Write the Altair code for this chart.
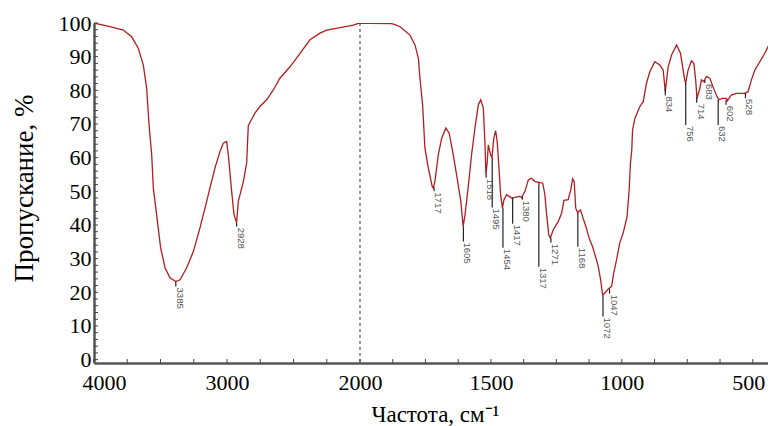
import altair as alt
import pandas as pd

# Spectrum (wavenumber, cm-1 ; transmittance, %)
wavenumber = [4000, 3880, 3780, 3717, 3667, 3629, 3604, 3586, 3566, 3554, 3529, 3499, 3466, 3429, 3385,
              3353, 3303, 3253, 3203, 3165, 3128, 3090, 3053, 3028, 3003, 2990, 2965, 2947, 2928, 2915,
              2877, 2852, 2840, 2827, 2789, 2752, 2702, 2652, 2602, 2526, 2451, 2376, 2301, 2250, 2150,
              2050, 2013, 1962, 1880, 1866, 1847, 1809, 1790, 1777, 1771, 1761, 1752, 1739, 1724, 1720,
              1714, 1701, 1688, 1672, 1659, 1644, 1629, 1615, 1606, 1599, 1587, 1574, 1561, 1548, 1539,
              1529, 1523, 1519, 1514, 1510, 1501, 1496, 1489, 1482, 1476, 1470, 1463, 1456, 1450, 1440,
              1430, 1421, 1408, 1392, 1383, 1370, 1357, 1345, 1332, 1320, 1302, 1294, 1287, 1279, 1273,
              1262, 1243, 1230, 1221, 1205, 1195, 1188, 1182, 1176, 1169, 1158, 1148, 1135, 1125, 1112,
              1099, 1090, 1081, 1073, 1065, 1052, 1039, 1031, 1020, 1008, 995, 980, 972, 967, 962,
              959, 950, 931, 918, 906, 893, 874, 855, 842, 834, 823, 810, 791, 776, 760,
              756, 747, 734, 725, 718, 713, 702, 696, 687, 677, 664, 652, 639, 630, 616,
              600, 597, 582, 563, 531, 518, 505, 492, 473, 454, 435, 428, 422, 416]
transmittance = [100, 98.9, 97.9, 95.9, 92.5, 87.5, 80.6, 69.7, 60.8, 51, 43, 33.2, 27.3, 24.3, 23.2,
                 23.7, 27.3, 32.1, 39.2, 45.1, 51, 57, 61.8, 64.3, 64.8, 60.8, 50, 43, 40.7, 47,
                 52.9, 58.5, 69.5, 70.5, 73.3, 75.2, 77.2, 80.1, 83.6, 87, 91, 95, 97, 97.9, 98.6,
                 99.4, 99.9, 99.9, 99.8, 99.5, 98.9, 96.4, 93.5, 89.5, 83.6, 75.7, 62.8, 56.9, 51.4, 51,
                 52.9, 60.8, 65.8, 68.8, 67.2, 60.8, 53.9, 47, 39.6, 43, 51, 60.8, 68.8, 75.7, 77.2,
                 74.7, 64.8, 54.9, 58.8, 63.8, 60.8, 60, 65.8, 68, 64.8, 57.9, 49, 45.1, 47.5, 49,
                 48.5, 48, 48.2, 48.5, 48.2, 50, 53.4, 53.9, 52.9, 52.7, 52.4, 49, 43, 37.1, 36.1,
                 38.6, 41, 43.5, 47.3, 47.5, 50.4, 53.7, 52.9, 45, 43.7, 44.5, 42, 39, 36.1, 33.6,
                 30.2, 27.7, 23.7, 19.1, 19.8, 21, 21.8, 25.7, 29.7, 34.6, 37.6, 42.5, 50.4, 58.4, 62.3,
                 68.2, 71.7, 75.2, 76.7, 82.1, 85.5, 88.5, 87.5, 86, 79.6, 87, 90.5, 93.5, 91, 83.1,
                 82.2, 86, 88.8, 88, 83.1, 77.6, 80.6, 83.1, 82.6, 84.1, 83.6, 81.1, 78.6, 77.2, 77.6,
                 77.6, 76.9, 78.6, 79.1, 79.1, 79.6, 83.1, 86, 88.5, 91, 94, 95.4, 94.5, 94]

# Peak annotations
peak_labels = [3385, 2928, 1717, 1605, 1518, 1495, 1454, 1417, 1380, 1317, 1271, 1168, 1072, 1047,
               834, 756, 714, 683, 632, 602, 528]
peak_top = [23.2, 40.7, 51.2, 39.6, 54.9, 60.0, 45.1, 48.1, 48.4, 52.5, 36.2, 43.6, 19.0, 21.1,
            80.5, 82.2, 78.0, 83.1, 77.2, 77.2, 79.2]
peak_bottom = [21.7, 39.5, 50.0, 35.1, 54.0, 45.2, 33.2, 40.4, 47.5, 27.6, 34.7, 33.5, 12.8, 19.6,
               78.5, 69.7, 76.3, 82.2, 69.7, 75.7, 77.7]

x_major = [4000, 3000, 2000, 1500, 1000, 500]
x_minor = list(range(4000, 1999, -250)) + list(range(1875, 499, -125))
y_major = list(range(0, 101, 10))
y_minor = list(range(0, 101, 2))
divider = [2000]

spec_df = pd.DataFrame({"wn": wavenumber, "T": transmittance})
peaks_df = pd.DataFrame({"wn": peak_labels, "top": peak_top, "bottom": peak_bottom,
                         "label": [str(p) for p in peak_labels]})
xminor_df = pd.DataFrame({"wn": x_minor})
yminor_df = pd.DataFrame({"T": y_minor})
div_df = pd.DataFrame({"wn": divider})

x_scale = alt.Scale(domain=[4000, 2000, 415], range=[0, 266, 681], nice=False, zero=False)
y_scale = alt.Scale(domain=[-1, 100], nice=False, zero=False)

serif = "Liberation Serif"
x_axis = alt.Axis(values=x_major, format="d", title="Частота, см⁻¹", ticks=False, grid=False,
                  domainColor="#555555", domainWidth=2.5,
                  labelFont=serif, labelFontSize=22, labelColor="black", labelPadding=9,
                  labelFlush=30, labelFlushOffset=12,
                  titleFont=serif, titleFontSize=23, titleFontWeight="normal", titleColor="black",
                  titleX=341, titleY=51, titleAlign="center", titleBaseline="middle")
y_axis = alt.Axis(values=y_major, format="d", title="Пропускание, %", ticks=False, grid=False,
                  domainColor="#555555", domainWidth=2.5,
                  labelFont=serif, labelFontSize=22, labelColor="black", labelPadding=3,
                  titleFont=serif, titleFontSize=27, titleFontWeight="normal", titleColor="black",
                  titleAngle=270, titleX=-70, titleY=165, titleAlign="center", titleBaseline="middle")


def X(field="wn"):
    return alt.X(f"{field}:Q", scale=x_scale, axis=x_axis)


def Y(field="T"):
    return alt.Y(f"{field}:Q", scale=y_scale, axis=y_axis)


line = alt.Chart(spec_df).mark_line(color="#b01e22", strokeWidth=1.3, clip=True).encode(
    x=X(), y=Y(), order=alt.Order("wn:Q", sort="descending"))

dash = alt.Chart(div_df).mark_rule(color="#777777", strokeWidth=1.5, strokeDash=[3, 3]).encode(x=X())

xticks = alt.Chart(xminor_df).mark_rule(color="#444444", strokeWidth=1).encode(
    x=X(), y=alt.value(340), y2=alt.value(336))
yticks = alt.Chart(yminor_df).mark_rule(color="#444444", strokeWidth=1).encode(
    y=Y(), x=alt.value(0), x2=alt.value(4))

leaders = alt.Chart(peaks_df).mark_rule(color="#222222", strokeWidth=1.2).encode(
    x=X(), y=Y("top"), y2="bottom:Q")

labels = alt.Chart(peaks_df).mark_text(angle=90, align="left", baseline="middle", dx=1, dy=-4,
                                       font="Liberation Sans Narrow, Liberation Sans, sans-serif",
                                       fontSize=9.5, color="#555555").encode(
    x=X(), y=Y("bottom"), text="label:N")

chart = alt.layer(dash, line, leaders, labels, xticks, yticks).properties(
    width=674, height=340,
    padding={"left": 86, "top": 15, "right": 0, "bottom": 63},
    autosize=alt.AutoSizeParams(type="none"),
).configure_view(stroke=None)

chart.save("out.html", embed_options={"renderer": "svg", "actions": False})
